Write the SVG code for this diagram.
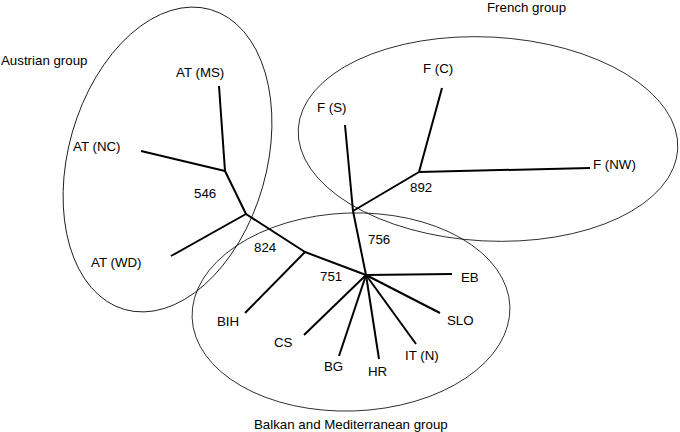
<svg xmlns="http://www.w3.org/2000/svg" width="680" height="432" viewBox="0 0 680 432">
<style>
text{font-family:"Liberation Sans",Arial,sans-serif;font-size:13.3px;fill:#000}
.grp{fill:none;stroke:#000;stroke-width:0.8}
.br{fill:none;stroke:#000;stroke-width:2;stroke-linecap:butt;stroke-linejoin:round}
</style>
<rect width="680" height="432" fill="#fff"/>
<g id="groups">
<g id="austrian-group"><ellipse class="grp" cx="167.5" cy="159.5" rx="99" ry="156" transform="rotate(16 167.5 159.5)"/><text x="1" y="65">Austrian group</text></g>
<g id="french-group"><ellipse class="grp" cx="488" cy="139" rx="190" ry="102" transform="rotate(3 488 139)"/><text x="487" y="12">French group</text></g>
<g id="balkan-group"><ellipse class="grp" cx="351" cy="312" rx="159" ry="99" transform="rotate(-2 351 312)"/><text x="254" y="429">Balkan and Mediterranean group</text></g>
</g>
<g id="connectors">
<polyline class="br" points="219,86 225,171 246,214 305,252 366,275"/>
<line class="br" x1="141" y1="151" x2="225" y2="171"/>
<line class="br" x1="171" y1="256" x2="246" y2="214"/>
<line class="br" x1="245" y1="313" x2="305" y2="252"/>
<polyline class="br" points="345,125 353,211 366,275"/>
<polyline class="br" points="353,211 419,172 442,88"/>
<line class="br" x1="419" y1="172" x2="590" y2="168"/>
<line class="br" x1="366" y1="275" x2="452" y2="274"/>
<line class="br" x1="366" y1="275" x2="440" y2="313"/>
<line class="br" x1="366" y1="275" x2="416" y2="344"/>
<line class="br" x1="366" y1="275" x2="379" y2="359"/>
<line class="br" x1="366" y1="275" x2="339" y2="356"/>
<line class="br" x1="366" y1="275" x2="304" y2="335"/>
</g>
<g id="nodes">
<g id="at-ms"><text x="176" y="77">AT (MS)</text></g>
<g id="at-nc"><text x="73" y="151">AT (NC)</text></g>
<g id="at-wd"><text x="91" y="267">AT (WD)</text></g>
<g id="n546"><text x="194" y="198">546</text></g>
<g id="n824"><text x="254" y="252">824</text></g>
<g id="n751"><text x="320" y="281">751</text></g>
<g id="n756"><text x="368" y="244">756</text></g>
<g id="n892"><text x="410" y="192">892</text></g>
<g id="f-c"><text x="423" y="73">F (C)</text></g>
<g id="f-s"><text x="317" y="112">F (S)</text></g>
<g id="f-nw"><text x="593" y="169">F (NW)</text></g>
<g id="eb"><text x="461" y="282">EB</text></g>
<g id="slo"><text x="447" y="325">SLO</text></g>
<g id="it-n"><text x="405" y="360">IT (N)</text></g>
<g id="hr"><text x="368" y="376">HR</text></g>
<g id="bg"><text x="324" y="371">BG</text></g>
<g id="cs"><text x="274" y="347">CS</text></g>
<g id="bih"><text x="217" y="326">BIH</text></g>
</g>
</svg>
